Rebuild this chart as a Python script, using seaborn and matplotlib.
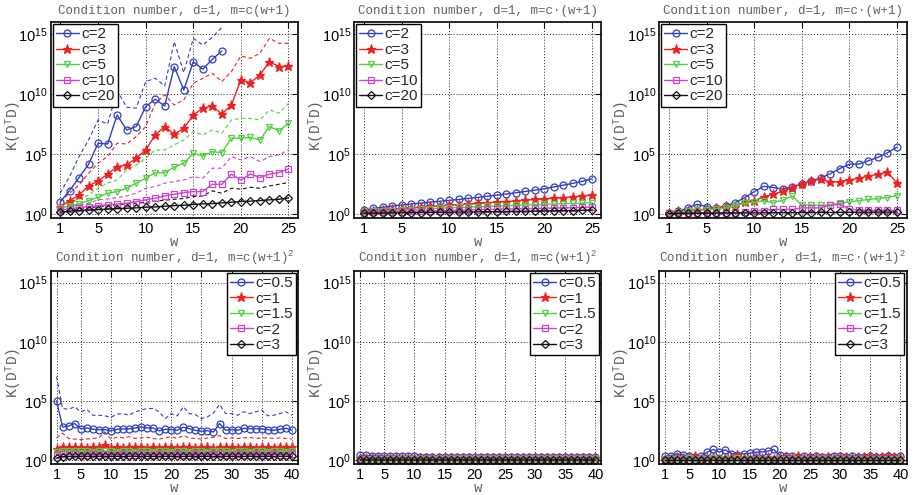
import numpy as np
import seaborn as sns
import matplotlib.pyplot as plt
from matplotlib.lines import Line2D

# ---- data: log10 of condition number ----
W25 = list(range(1, 26))
W40 = list(range(1, 41))

# top left, m=c(w+1)
A_c2 = [0.97, 1.94, 3.03, 4.14, 5.89, 5.83, 8.25, 7.0, 7.28, 8.94, 9.56, 9.0, 12.28, 10.33, 12.69, 12.06, 12.89, 13.58]
A_c2_max = [1.72, 3.11, 4.78, 6.17, 7.83, 7.5, 10.28, 8.89, 8.81, 11.03, 11.31, 10.67, 14.36, 11.78, 14.64, 14.08, 14.72, 15.56]
A_c3 = [0.61, 1.08, 1.58, 2.33, 2.75, 3.31, 3.94, 4.08, 4.64, 5.33, 6.58, 7.28, 6.64, 7.14, 8.25, 8.81, 9.0, 8.33, 9.08, 11.17, 10.94, 11.58, 12.69, 12.28, 12.33]
A_c3_max = [1.03, 1.72, 2.42, 3.39, 4.22, 4.78, 5.89, 5.83, 6.44, 7.28, 9.22, 9.92, 9.08, 9.5, 10.89, 11.31, 11.72, 11.03, 11.86, 13.17, 12.97, 13.39, 14.64, 14.22, 14.22]
A_c5 = [0.47, 0.67, 0.83, 1.11, 1.39, 1.72, 1.86, 2.14, 2.56, 2.97, 3.44, 3.44, 3.89, 4.22, 5.06, 4.83, 5.19, 5.11, 6.31, 6.31, 6.39, 6.17, 7.28, 6.92, 7.56]
A_c5_max = [0.61, 0.89, 1.22, 1.58, 2.14, 2.56, 2.83, 3.67, 4.08, 4.64, 5.33, 5.33, 5.75, 6.17, 6.86, 6.58, 7.0, 6.72, 7.83, 7.97, 7.97, 7.83, 8.67, 8.39, 9.22]
A_c10 = [0.33, 0.42, 0.53, 0.61, 0.69, 0.75, 0.83, 0.89, 1.03, 1.17, 1.31, 1.5, 1.64, 1.78, 1.86, 1.86, 2.47, 2.47, 3.31, 2.83, 3.33, 3.03, 3.31, 3.44, 3.75]
A_c10_max = [0.47, 0.61, 0.75, 0.89, 1.17, 1.25, 1.36, 1.5, 1.72, 2.14, 2.28, 2.56, 2.69, 2.83, 3.11, 2.97, 3.81, 3.81, 4.78, 4.5, 4.78, 4.36, 4.78, 4.92, 5.33]
A_c20 = [0.14, 0.22, 0.28, 0.33, 0.36, 0.39, 0.44, 0.47, 0.5, 0.56, 0.58, 0.64, 0.69, 0.72, 0.78, 0.83, 0.86, 0.92, 0.97, 1.03, 1.06, 1.11, 1.17, 1.22, 1.33]
A_c20_max = [0.25, 0.33, 0.42, 0.5, 0.58, 0.67, 0.75, 0.83, 0.89, 0.97, 1.06, 1.14, 1.22, 1.28, 1.44, 1.5, 1.92, 1.72, 2.14, 2.06, 2.22, 2.14, 2.33, 2.47, 2.61]

# top middle
B_c2 = [0.3, 0.45, 0.55, 0.65, 0.75, 0.82, 0.9, 0.98, 1.05, 1.13, 1.2, 1.3, 1.38, 1.47, 1.56, 1.66, 1.76, 1.87, 1.98, 2.1, 2.25, 2.4, 2.55, 2.72, 2.92]
B_c3 = [0.2, 0.27, 0.33, 0.39, 0.45, 0.5, 0.56, 0.62, 0.67, 0.72, 0.77, 0.82, 0.87, 0.92, 0.98, 1.03, 1.08, 1.14, 1.2, 1.25, 1.3, 1.36, 1.42, 1.5, 1.58]
B_c5 = [0.15, 0.2, 0.24, 0.28, 0.32, 0.36, 0.4, 0.44, 0.48, 0.51, 0.54, 0.57, 0.6, 0.63, 0.66, 0.69, 0.72, 0.74, 0.77, 0.8, 0.82, 0.85, 0.87, 0.9, 0.93]
B_c10 = [0.1, 0.13, 0.15, 0.17, 0.19, 0.21, 0.23, 0.25, 0.27, 0.29, 0.31, 0.33, 0.35, 0.37, 0.38, 0.4, 0.42, 0.44, 0.45, 0.47, 0.49, 0.5, 0.52, 0.54, 0.56]
B_c20 = [0.05, 0.06, 0.07, 0.08, 0.09, 0.1, 0.11, 0.12, 0.13, 0.14, 0.15, 0.16, 0.17, 0.18, 0.19, 0.2, 0.21, 0.22, 0.23, 0.25, 0.26, 0.27, 0.28, 0.3, 0.32]

# top right
C_c2 = [0.08, 0.2, 0.5, 0.8, 0.6, 0.5, 0.65, 0.94, 1.36, 1.85, 2.3, 2.2, 2.07, 2.27, 2.5, 2.76, 3.0, 3.35, 3.78, 4.15, 4.15, 4.43, 4.72, 5.1, 5.57]
C_c3 = [0.08, 0.2, 0.28, 0.3, 0.42, 0.45, 0.65, 0.6, 1.0, 1.08, 1.42, 1.65, 1.88, 2.2, 2.5, 2.73, 2.93, 2.64, 2.7, 2.84, 2.98, 3.15, 3.3, 3.5, 2.56]
C_c5 = [0.08, 0.15, 0.2, 0.3, 0.35, 0.42, 0.5, 0.65, 0.88, 1.0, 1.08, 0.94, 1.14, 1.5, 0.74, 0.74, 0.72, 0.74, 0.88, 1.0, 1.1, 1.2, 1.28, 1.36, 1.53]
C_c10 = [0.05, 0.06, 0.07, 0.08, 0.08, 0.09, 0.1, 0.1, 0.12, 0.28, 0.28, 0.37, 0.37, 0.37, 0.5, 0.5, 0.5, 0.74, 0.8, 0.42, 0.3, 0.3, 0.3, 0.3, 0.3]
C_c20 = [0.03, 0.04, 0.05, 0.05, 0.06, 0.06, 0.07, 0.07, 0.08, 0.08, 0.09, 0.09, 0.1, 0.1, 0.11, 0.11, 0.12, 0.12, 0.13, 0.13, 0.14, 0.14, 0.15, 0.15, 0.16]

# bottom left, m=c(w+1)^2
D_c05 = [5.03, 2.82, 2.91, 3.11, 2.68, 2.74, 2.63, 2.6, 2.6, 2.49, 2.63, 2.66, 2.66, 2.74, 2.82, 2.74, 2.74, 2.49, 2.63, 2.6,
         2.54, 2.8, 2.68, 2.54, 2.46, 2.51, 2.4, 3.11, 2.54, 2.6, 2.54, 2.71, 2.68, 2.68, 2.66, 2.6, 2.54, 2.63, 2.71, 2.54]
D_c05_max = [7.06, 4.38, 4.32, 4.52, 4.1, 4.32, 3.81, 3.81, 3.76, 3.64, 3.9, 3.95, 3.81, 4.1, 4.24, 4.38, 4.38, 4.1, 3.53, 3.95,
             3.76, 4.52, 3.95, 3.87, 3.53, 3.67, 4.01, 4.72, 3.95, 3.95, 3.81, 4.1, 3.95, 4.1, 4.24, 3.76, 3.81, 3.95, 4.1, 3.81]
D_c1 = [1.0, 1.15, 1.1, 1.12, 1.1, 1.08, 1.1, 1.1, 1.3, 1.08, 1.1, 1.08, 1.12, 1.1, 1.1, 1.08, 1.1, 1.08, 1.1, 1.1,
        1.08, 1.1, 1.1, 1.08, 1.1, 1.1, 1.08, 1.1, 1.12, 1.1, 1.08, 1.1, 1.1, 1.08, 1.1, 1.1, 1.08, 1.1, 1.1, 1.1]
D_c1_max = [1.9, 2.3, 1.85, 1.8, 1.75, 1.8, 1.85, 1.9, 2.4, 1.8, 1.95, 1.9, 2.0, 1.85, 1.9, 1.95, 1.85, 1.8, 1.9, 2.0,
            1.85, 2.1, 1.9, 1.85, 1.8, 1.9, 1.95, 2.1, 1.85, 1.9, 1.85, 1.9, 1.95, 1.85, 1.9, 1.9, 1.85, 1.9, 1.85, 1.8]
D_c15 = [0.7, 0.78, 0.76, 0.77, 0.8, 0.76, 0.75, 0.77, 0.78, 0.76, 0.75, 0.77, 0.76, 0.75, 0.77, 0.76, 0.75, 0.76, 0.77, 0.75,
         0.76, 0.77, 0.75, 0.76, 0.77, 0.75, 0.76, 0.78, 0.76, 0.75, 0.77, 0.76, 0.75, 0.76, 0.77, 0.75, 0.76, 0.77, 0.75, 0.76]
D_c2 = [0.45, 0.52, 0.5, 0.51, 0.5, 0.5, 0.51, 0.5, 0.52, 0.5, 0.5, 0.51, 0.5, 0.5, 0.51, 0.5, 0.5, 0.51, 0.5, 0.5,
        0.51, 0.5, 0.5, 0.51, 0.5, 0.5, 0.51, 0.52, 0.5, 0.5, 0.51, 0.5, 0.5, 0.51, 0.5, 0.5, 0.51, 0.5, 0.5, 0.51]
D_c3 = [0.2, 0.33, 0.34, 0.35, 0.34, 0.35, 0.34, 0.35, 0.35, 0.34, 0.35, 0.34, 0.35, 0.35, 0.34, 0.35, 0.34, 0.35, 0.35, 0.34,
        0.35, 0.34, 0.35, 0.35, 0.34, 0.35, 0.34, 0.35, 0.35, 0.34, 0.35, 0.34, 0.35, 0.35, 0.34, 0.35, 0.34, 0.35, 0.35, 0.34]

# bottom middle
E_c05 = [0.43, 0.42, 0.4, 0.38, 0.37, 0.36, 0.35, 0.35, 0.34, 0.34, 0.33, 0.33, 0.33, 0.32, 0.32, 0.32, 0.32, 0.31, 0.31, 0.31,
         0.31, 0.31, 0.3, 0.3, 0.3, 0.3, 0.3, 0.3, 0.3, 0.3, 0.3, 0.3, 0.3, 0.3, 0.3, 0.3, 0.3, 0.3, 0.3, 0.3]
E_c1 = [0.2, 0.19, 0.18, 0.18, 0.18, 0.17, 0.17, 0.17, 0.17, 0.17, 0.17, 0.17, 0.17, 0.17, 0.17, 0.17, 0.17, 0.17, 0.17, 0.17,
        0.17, 0.17, 0.17, 0.17, 0.17, 0.17, 0.17, 0.17, 0.17, 0.17, 0.17, 0.17, 0.17, 0.17, 0.17, 0.17, 0.17, 0.17, 0.17, 0.17]
E_c15 = [0.13, 0.12, 0.12, 0.12, 0.12, 0.12, 0.12, 0.12, 0.12, 0.12, 0.12, 0.12, 0.12, 0.12, 0.12, 0.12, 0.12, 0.12, 0.12, 0.12,
         0.12, 0.12, 0.12, 0.12, 0.12, 0.12, 0.12, 0.12, 0.12, 0.12, 0.12, 0.12, 0.12, 0.12, 0.12, 0.12, 0.12, 0.12, 0.12, 0.12]
E_c2 = [0.08, 0.07, 0.07, 0.07, 0.07, 0.07, 0.07, 0.07, 0.07, 0.07, 0.07, 0.07, 0.07, 0.07, 0.07, 0.07, 0.07, 0.07, 0.07, 0.07,
        0.07, 0.07, 0.07, 0.07, 0.07, 0.07, 0.07, 0.07, 0.07, 0.07, 0.07, 0.07, 0.07, 0.07, 0.07, 0.07, 0.07, 0.07, 0.07, 0.07]
E_c3 = [0.05, 0.04, 0.04, 0.04, 0.04, 0.04, 0.04, 0.04, 0.04, 0.04, 0.04, 0.04, 0.04, 0.04, 0.04, 0.04, 0.04, 0.04, 0.04, 0.04,
        0.04, 0.04, 0.04, 0.04, 0.04, 0.04, 0.04, 0.04, 0.04, 0.04, 0.04, 0.04, 0.04, 0.04, 0.04, 0.04, 0.04, 0.04, 0.04, 0.04]

# bottom right
F_c05 = [0.34, 0.4, 0.56, 0.45, 0.4, 0.3, 0.35, 0.7, 0.93, 0.7, 0.9, 0.56, 0.5, 0.56, 0.6, 0.7, 0.72, 0.78, 0.93, 0.42,
         0.4, 0.35, 0.3, 0.35, 0.32, 0.38, 0.3, 0.32, 0.35, 0.38, 0.3, 0.4, 0.32, 0.3, 0.35, 0.3, 0.32, 0.35, 0.3, 0.38]
F_c1 = [0.1, 0.15, 0.3, 0.2, 0.25, 0.4, 0.15, 0.2, 0.3, 0.15, 0.2, 0.25, 0.45, 0.2, 0.15, 0.25, 0.2, 0.3, 0.15, 0.25,
        0.3, 0.2, 0.35, 0.2, 0.3, 0.25, 0.2, 0.3, 0.2, 0.25, 0.3, 0.2, 0.25, 0.3, 0.35, 0.25, 0.3, 0.35, 0.25, 0.3]
F_c15 = [0.1, 0.12, 0.15, 0.1, 0.18, 0.12, 0.1, 0.15, 0.2, 0.12, 0.15, 0.1, 0.2, 0.12, 0.15, 0.1, 0.12, 0.15, 0.1, 0.12,
         0.15, 0.1, 0.12, 0.15, 0.1, 0.12, 0.15, 0.1, 0.12, 0.15, 0.1, 0.12, 0.15, 0.1, 0.12, 0.15, 0.1, 0.12, 0.15, 0.1]
F_c2 = [0.04, 0.05, 0.05, 0.04, 0.05, 0.05, 0.04, 0.05, 0.05, 0.04, 0.05, 0.05, 0.04, 0.05, 0.05, 0.04, 0.05, 0.05, 0.04, 0.05,
        0.05, 0.04, 0.05, 0.05, 0.04, 0.05, 0.05, 0.04, 0.05, 0.05, 0.04, 0.05, 0.05, 0.04, 0.05, 0.05, 0.04, 0.05, 0.05, 0.04]
F_c3 = [0.02] * 40

TOP_LABELS = ["c=2", "c=3", "c=5", "c=10", "c=20"]
BOT_LABELS = ["c=0.5", "c=1", "c=1.5", "c=2", "c=3"]
TITLES = ["Condition number, d=1, m=c(w+1)",
          "Condition number, d=1, m=c\u00b7(w+1)",
          "Condition number, d=1, m=c\u00b7(w+1)",
          "Condition number, d=1, m=c(w+1)$^{\\mathtt{2}}$",
          "Condition number, d=1, m=c(w+1)$^{\\mathtt{2}}$",
          "Condition number, d=1, m=c\u00b7(w+1)$^{\\mathtt{2}}$"]

COLORS = ["#2f3fc4", "#ee2020", "#4fd040", "#cc44cc", "#111111"]
MARKERS = ["o", "*", "v", "s", "D"]
MSIZE = [5, 6.5, 5, 5, 4]

sns.set_style("white")
plt.rcParams["font.family"] = ["Liberation Sans", "DejaVu Sans"]
plt.rcParams["mathtext.fontset"] = "custom"
plt.rcParams["mathtext.rm"] = "Liberation Sans"
plt.rcParams["mathtext.it"] = "Liberation Sans:italic"
plt.rcParams["mathtext.tt"] = "Liberation Mono"

fig = plt.figure(figsize=(9.16, 4.95), dpi=100)

col_left = [50.5, 354, 659]
rows = [(22, 217.5), (270.7, 464)]
AW = 247.5


def make_ax(r, c):
    top, bot = rows[r]
    return fig.add_axes([col_left[c] / 916, 1 - bot / 495, AW / 916, (bot - top) / 495])


def draw(ax, w, solids, dashes, labels, title, loc, xmax, xticks):
    ax.set_yscale("log")
    for i, vals in enumerate(dashes):
        sns.lineplot(x=w[:len(vals)], y=10 ** np.array(vals), ax=ax, color=COLORS[i],
                     linestyle=(0, (3.5, 2.5)), linewidth=0.8, errorbar=None)
    for i, vals in enumerate(solids):
        face = COLORS[i] if MARKERS[i] == "*" else "none"
        sns.lineplot(x=w[:len(vals)], y=10 ** np.array(vals), ax=ax, color=COLORS[i],
                     marker=MARKERS[i], markersize=MSIZE[i], markerfacecolor=face,
                     markeredgecolor=COLORS[i], markeredgewidth=0.9, linewidth=1.0,
                     errorbar=None)
    ax.set_ylim(0.5, 1e16)
    ax.set_xlim(0, xmax)
    ax.set_yticks([1, 1e5, 1e10, 1e15])
    ax.set_yticklabels(["$10^{0}$", "$10^{5}$", "$10^{10}$", "$10^{15}$"])
    ax.minorticks_off()
    ax.set_xticks(xticks)
    ax.set_xticklabels([str(t) for t in xticks])
    ax.tick_params(axis="both", labelsize=10.5, direction="in", length=4, width=0.8,
                   top=True, right=True, colors="black")
    ax.tick_params(axis="y", pad=2)
    ax.tick_params(axis="x", pad=3)
    ax.grid(True, which="major", color="#222222", linestyle=(0, (1, 2)), linewidth=0.7)
    for s in ax.spines.values():
        s.set_color("black")
        s.set_linewidth(1.2)
    ax.set_title(title, family="Liberation Mono", fontsize=9, color="#606060", pad=6)
    ax.set_ylabel("K(D$^{\\mathtt{T}}$D)", family="Liberation Mono", fontsize=10.5, color="#606060")
    ax.yaxis.set_label_coords(-0.112, 0.47)
    ax.set_xlabel("w", family="Liberation Mono", fontsize=10, color="#606060")
    ax.xaxis.set_label_coords(0.5, -0.088)
    handles = [Line2D([], [], color=COLORS[i], marker=MARKERS[i], linewidth=1.0,
                      markersize=MSIZE[i],
                      markerfacecolor=COLORS[i] if MARKERS[i] == "*" else "none",
                      markeredgewidth=0.9) for i in range(5)]
    leg = ax.legend(handles, labels, loc=loc, fontsize=11, frameon=True, fancybox=False,
                    edgecolor="black", framealpha=1, borderaxespad=0.15, borderpad=0.2,
                    labelspacing=0.1, handlelength=1.5, handletextpad=0.15)
    leg.get_frame().set_linewidth(1.0)


panels = [
    (0, 0, W25, [A_c2, A_c3, A_c5, A_c10, A_c20], [A_c2_max, A_c3_max, A_c5_max, A_c10_max, A_c20_max]),
    (0, 1, W25, [B_c2, B_c3, B_c5, B_c10, B_c20], []),
    (0, 2, W25, [C_c2, C_c3, C_c5, C_c10, C_c20], []),
    (1, 0, W40, [D_c05, D_c1, D_c15, D_c2, D_c3], [D_c05_max, D_c1_max]),
    (1, 1, W40, [E_c05, E_c1, E_c15, E_c2, E_c3], []),
    (1, 2, W40, [F_c05, F_c1, F_c15, F_c2, F_c3], []),
]

for k, (r, c, w, solids, dashes) in enumerate(panels):
    ax = make_ax(r, c)
    if r == 0:
        draw(ax, w, solids, dashes, TOP_LABELS, TITLES[k], "upper left", 26, [1, 5, 10, 15, 20, 25])
    else:
        draw(ax, w, solids, dashes, BOT_LABELS, TITLES[k], "upper right", 41,
             [1, 5, 10, 15, 20, 25, 30, 35, 40])

plt.savefig("out.png", dpi=100)
